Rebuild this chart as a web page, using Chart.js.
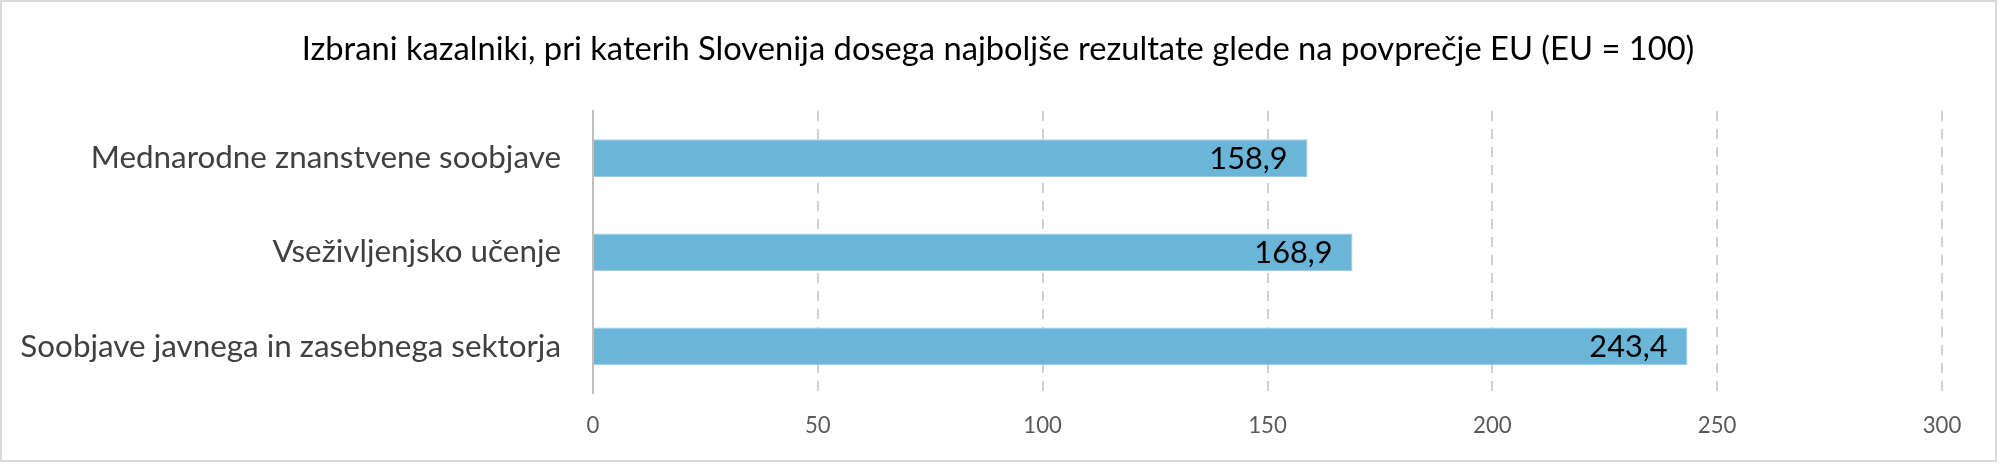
<!DOCTYPE html>
<html>
<head>
<meta charset="utf-8">
<script src="https://cdn.jsdelivr.net/npm/chart.js@4"></script>
<style>
html, body { margin: 0; padding: 0; background: #fff; }
#wrap { width: 2000px; height: 464px; }
</style>
</head>
<body>
<div id="wrap"><canvas id="c" width="2000" height="464"></canvas></div>
<script>
const titleText = 'Izbrani kazalniki, pri katerih Slovenija dosega najboljše rezultate glede na povprečje EU (EU = 100)';
const categories = ['Mednarodne znanstvene soobjave', 'Vseživljenjsko učenje', 'Soobjave javnega in zasebnega sektorja'];
const values = [158.9, 168.9, 243.4];
const xMin = 0;
const xMax = 300;
const xStep = 50;

const FAMILY = 'Lato, "Open Sans", "Liberation Sans", sans-serif';
const mctx = document.createElement('canvas').getContext('2d');
function inkWidth(text, size) {
  mctx.font = size + 'px ' + FAMILY;
  const m = mctx.measureText(text);
  return m.actualBoundingBoxLeft + m.actualBoundingBoxRight;
}
function fit(text, target) {
  return Math.round(1000 * target / inkWidth(text, 100)) / 10;
}
const titleSize = fit(titleText, 1390);
const catSize = fit(categories[2], 538);
const tickSize = fit('300', 37);
const valSize = fit('158,9', 74);

function fmt(v) { return v.toFixed(1).replace('.', ','); }

const frame = {
  id: 'frame',
  beforeDraw(chart) {
    const ctx = chart.ctx;
    ctx.save();
    ctx.fillStyle = '#ffffff';
    ctx.fillRect(0, 0, chart.width, chart.height);
    ctx.strokeStyle = '#d9d9d9';
    ctx.lineWidth = 2;
    ctx.strokeRect(1, 1, chart.width - 5, chart.height - 4);
    ctx.restore();
  }
};

const chartTitle = {
  id: 'chartTitle',
  afterDraw(chart) {
    const ctx = chart.ctx;
    ctx.save();
    ctx.font = titleSize + 'px ' + FAMILY;
    ctx.fillStyle = '#000000';
    ctx.textAlign = 'center';
    ctx.textBaseline = 'alphabetic';
    const asc = ctx.measureText('IEU').actualBoundingBoxAscent;
    ctx.fillText(titleText, 998, 48 + asc / 2);
    ctx.restore();
  }
};

const valueLabels = {
  id: 'valueLabels',
  afterDatasetsDraw(chart) {
    const ctx = chart.ctx;
    const meta = chart.getDatasetMeta(0);
    ctx.save();
    ctx.font = valSize + 'px ' + FAMILY;
    ctx.fillStyle = '#000000';
    ctx.textAlign = 'right';
    ctx.textBaseline = 'alphabetic';
    const asc = ctx.measureText('0123456789').actualBoundingBoxAscent;
    meta.data.forEach((bar, i) => {
      ctx.fillText(fmt(values[i]), bar.x - 20, bar.y + asc / 2);
    });
    ctx.restore();
  }
};

new Chart(document.getElementById('c'), {
  type: 'bar',
  data: {
    labels: categories,
    datasets: [{
      data: values,
      backgroundColor: '#6BB5D9',
      borderColor: '#9ccae5',
      borderWidth: 1,
      barPercentage: 0.4,
      categoryPercentage: 1.0
    }]
  },
  options: {
    indexAxis: 'y',
    responsive: false,
    devicePixelRatio: 1,
    animation: false,
    layout: { padding: { left: 0, right: 58, top: 111, bottom: 0 } },
    plugins: {
      legend: { display: false },
      tooltip: { enabled: false },
      title: { display: false }
    },
    scales: {
      x: {
        type: 'linear',
        min: xMin,
        max: xMax,
        ticks: {
          stepSize: xStep,
          color: '#595959',
          font: { family: FAMILY, size: tickSize, lineHeight: 1 },
          padding: 31.9 - tickSize / 2,
          maxRotation: 0
        },
        grid: {
          color: (c) => (c.tick && c.tick.value === 0) ? 'rgba(0,0,0,0)' : '#d0d0d0',
          lineWidth: 2,
          drawTicks: false
        },
        border: { display: false, dash: [10, 8] },
        afterFit(scale) { scale.height = 70.5; }
      },
      y: {
        ticks: {
          color: '#404040',
          font: { family: FAMILY, size: catSize, lineHeight: 1 },
          padding: 32
        },
        grid: { color: 'rgba(0,0,0,0)', lineWidth: 1, drawTicks: false },
        border: { display: true, color: '#bfbfbf', width: 2 },
        afterFit(scale) { scale.width = 593; }
      }
    }
  },
  plugins: [frame, chartTitle, valueLabels]
});
</script>
</body>
</html>
